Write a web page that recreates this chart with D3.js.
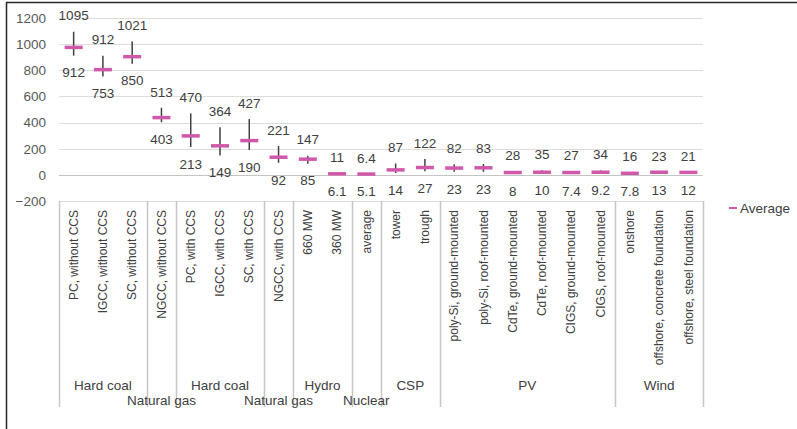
<!DOCTYPE html>
<html>
<head>
<meta charset="utf-8">
<script src="https://cdn.jsdelivr.net/npm/d3@7"></script>
<style>
  html, body { margin: 0; padding: 0; background: #fff; }
  svg { display: block; font-family: "Liberation Sans", Arial, sans-serif; }
</style>
</head>
<body>
<svg id="chart" width="797" height="429"></svg>
<script>
const categories = [
  "PC, without CCS", "IGCC, without CCS", "SC, without CCS",
  "NGCC, without CCS",
  "PC, with CCS", "IGCC, with CCS", "SC, with CCS",
  "NGCC, with CCS",
  "660 MW", "360 MW",
  "average",
  "tower", "trough",
  "poly-Si, ground-mounted", "poly-Si, roof-mounted", "CdTe, ground-mounted",
  "CdTe, roof-mounted", "CIGS, ground-mounted", "CIGS, roof-mounted",
  "onshore", "offshore, concrete foundation", "offshore, steel foundation"
];
const groupNames  = ["Hard coal", "Natural gas", "Hard coal", "Natural gas", "Hydro", "Nuclear", "CSP", "PV", "Wind"];
const groupSizes  = [3, 1, 3, 1, 2, 1, 2, 6, 3];

const maxValues = [1095, 912, 1021, 513, 470, 364, 427, 221, 147, 11, 6.4, 87, 122, 82, 83, 28, 35, 27, 34, 16, 23, 21];
const minValues = [912, 753, 850, 403, 213, 149, 190, 92, 85, 6.1, 5.1, 14, 27, 23, 23, 8, 10, 7.4, 9.2, 7.8, 13, 12];
const avgValues = [975, 805, 904, 438, 298, 222, 262, 135, 120, 8, 6, 38, 56, 52, 54, 18, 20, 18, 20, 12, 20, 19];

const yTicks = [-200, 0, 200, 400, 600, 800, 1000, 1200];

const pink = "#d058aa";
const svg = d3.select("#chart");

// frame
svg.append("line").attr("x1", 6).attr("x2", 797).attr("y1", 2.5).attr("y2", 2.5)
  .attr("stroke", "#262626").attr("stroke-width", 1.5);
svg.append("line").attr("x1", 6.5).attr("x2", 6.5).attr("y1", 2).attr("y2", 429)
  .attr("stroke", "#262626").attr("stroke-width", 1.5);

const x = d3.scaleBand().domain(categories).range([59, 703]).padding(0);
const y = d3.scaleLinear().domain([-200, 1200]).range([201, 18]);

// gridlines
svg.append("g").selectAll("line").data(yTicks).join("line")
  .attr("x1", 59).attr("x2", 703)
  .attr("y1", d => Math.round(y(d)) + 0.5).attr("y2", d => Math.round(y(d)) + 0.5)
  .attr("stroke", d => d === 0 ? "#c4c4c4" : "#dcdcdc").attr("stroke-width", 1);

// y axis labels
const yAxis = d3.axisLeft(y).tickValues(yTicks).tickFormat(d3.format("d")).tickSize(0).tickPadding(0);
const gy = svg.append("g").attr("transform", "translate(46,0)").call(yAxis);
gy.select(".domain").remove();
gy.selectAll("text").attr("font-size", 13.5).attr("fill", "#595959")
  .attr("font-family", "'Liberation Sans', Arial, sans-serif");

// group boundaries
const bounds = [0];
groupSizes.forEach(n => bounds.push(bounds[bounds.length - 1] + n));
const bx = i => i < categories.length ? x(categories[i]) : x.range()[1];

svg.append("g").selectAll("line").data(bounds).join("line")
  .attr("x1", d => Math.round(bx(d)) + 0.5).attr("x2", d => Math.round(bx(d)) + 0.5)
  .attr("y1", 201).attr("y2", 407)
  .attr("stroke", "#c6c6c6").attr("stroke-width", 1.5);

// category labels
svg.append("g").selectAll("text").data(categories).join("text")
  .attr("transform", d => `translate(${x(d) + x.bandwidth() / 2},210) rotate(-90)`)
  .attr("text-anchor", "end").attr("dy", "0.35em")
  .attr("font-size", 12).attr("fill", "#404040")
  .text(d => d);

// group labels (too-wide labels drop to a second row)
const groups = groupNames.map((name, i) => ({
  name, x0: bx(bounds[i]), x1: bx(bounds[i + 1])
}));
svg.append("g").selectAll("text").data(groups).join("text")
  .attr("x", d => (d.x0 + d.x1) / 2)
  .attr("y", 390)
  .attr("text-anchor", "middle")
  .attr("font-size", 13.5).attr("fill", "#404040")
  .text(d => d.name)
  .each(function(d) {
    if (this.getComputedTextLength() > d.x1 - d.x0 - 4) d3.select(this).attr("y", 405);
  });

// range lines
const cx = i => x(categories[i]) + x.bandwidth() / 2;
svg.append("g").selectAll("line").data(categories).join("line")
  .attr("x1", (d, i) => cx(i)).attr("x2", (d, i) => cx(i))
  .attr("y1", (d, i) => y(maxValues[i])).attr("y2", (d, i) => y(minValues[i]))
  .attr("stroke", "#404040").attr("stroke-width", 1.5);

// average dashes
svg.append("g").selectAll("line").data(avgValues).join("line")
  .attr("x1", (d, i) => cx(i) - 9).attr("x2", (d, i) => cx(i) + 9)
  .attr("y1", d => y(d)).attr("y2", d => y(d))
  .attr("stroke", pink).attr("stroke-width", 3.5);

// labels
const fmt = v => String(v);
svg.append("g").selectAll("text").data(maxValues).join("text")
  .attr("x", (d, i) => cx(i)).attr("y", d => y(d) - 16)
  .attr("text-anchor", "middle").attr("dy", "0.35em")
  .attr("font-size", 13.5).attr("fill", "#404040")
  .text(fmt);
svg.append("g").selectAll("text").data(minValues).join("text")
  .attr("x", (d, i) => cx(i)).attr("y", d => y(d) + 17)
  .attr("text-anchor", "middle").attr("dy", "0.35em")
  .attr("font-size", 13.5).attr("fill", "#404040")
  .text(fmt);

// legend
svg.append("line").attr("x1", 729).attr("x2", 737).attr("y1", 208).attr("y2", 208)
  .attr("stroke", pink).attr("stroke-width", 2);
svg.append("text").attr("x", 740).attr("y", 208).attr("dy", "0.35em")
  .attr("font-size", 13.5).attr("fill", "#404040").text("Average");
</script>
</body>
</html>
